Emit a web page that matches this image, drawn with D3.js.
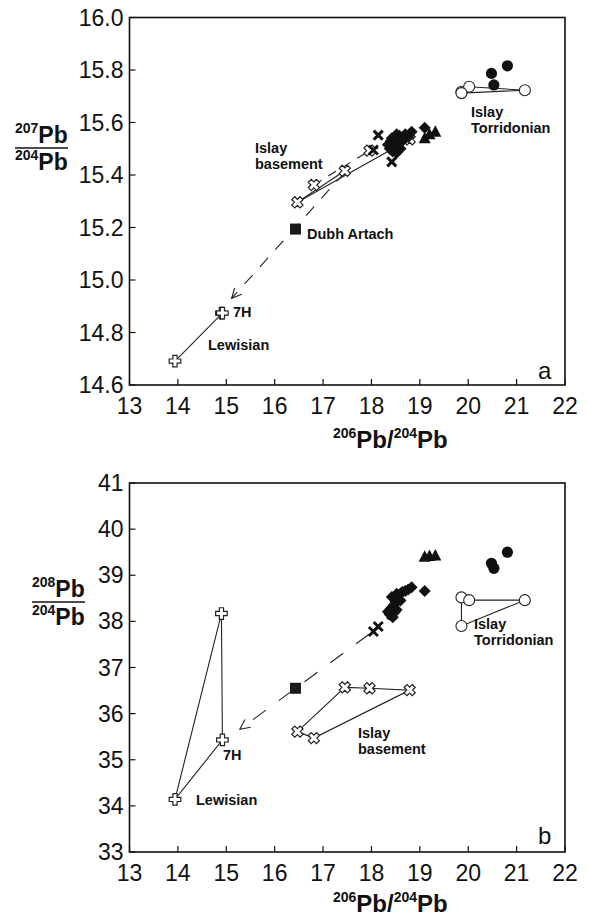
<!DOCTYPE html>
<html>
<head>
<meta charset="utf-8">
<script src="https://cdn.jsdelivr.net/npm/d3@7"></script>
<style>
  body { margin: 0; background: #fff; }
  svg text { font-family: "Liberation Sans", Arial, sans-serif; fill: #111; }
</style>
</head>
<body>
<svg id="svg" width="589" height="918"></svg>
<script>
// ****************************************
// Data

var xTicks = [13, 14, 15, 16, 17, 18, 19, 20, 21, 22];
var yTicksA = [14.6, 14.8, 15.0, 15.2, 15.4, 15.6, 15.8, 16.0];
var yTicksB = [33, 34, 35, 36, 37, 38, 39, 40, 41];

// filled diamonds
var diamondX    = [18.34, 18.38, 18.40, 18.42, 18.44, 18.46, 18.48, 18.50, 18.52, 18.52, 18.55, 18.58, 18.60, 18.64, 18.70, 18.76, 18.83, 19.10];
var diamondY207 = [15.515, 15.500, 15.530, 15.540, 15.490, 15.520, 15.505, 15.540, 15.485, 15.555, 15.510, 15.550, 15.500, 15.530, 15.555, 15.545, 15.565, 15.580];
var diamondY208 = [38.21, 38.15, 38.28, 38.53, 38.09, 38.35, 38.20, 38.42, 38.25, 38.60, 38.49, 38.58, 38.45, 38.64, 38.66, 38.69, 38.74, 38.66];

// filled triangles
var triX    = [19.10, 19.20, 19.32];
var triY207 = [15.540, 15.555, 15.565];
var triY208 = [39.40, 39.42, 39.43];

// x marks
var xMarkX    = [18.04, 18.14, 18.42];
var xMarkY207 = [15.495, 15.552, 15.450];
var xMarkY208 = [37.78, 37.89, 38.15];

// Islay Torridonian
var torrFilledX    = [20.48, 20.53, 20.81];
var torrFilledY207 = [15.787, 15.743, 15.816];
var torrFilledY208 = [39.26, 39.15, 39.50];
var torrOpenX    = [19.86, 20.02, 21.17, 19.86];
var torrOpenY207 = [15.717, 15.736, 15.723, 15.712];
var torrOpenY208 = [38.52, 38.46, 38.46, 37.90];

// Islay basement
var baseX    = [16.47, 16.81, 17.45, 17.96, 18.79];
var baseY207 = [15.296, 15.362, 15.416, 15.493, 15.536];
var baseY208 = [35.61, 35.47, 36.57, 36.55, 36.51];

// Lewisian (low, high, 7H)
var lewX    = [13.94, 14.90, 14.92];
var lewY207 = [14.691, 14.874, 14.874];
var lewY208 = [34.14, 38.17, 35.43];

// Dubh Artach
var dubhX = [16.43];
var dubhY207 = [15.194];
var dubhY208 = [36.55];

// trend arrows [from, to]
var arrowA = [[17.45, 15.41], [15.11, 14.93]];
var arrowB = [[17.95, 37.72], [15.28, 35.66]];

// ****************************************
// Setup

var svg = d3.select('#svg');

var panels = [
  { key: 'a', yDomain: [14.6, 16.0], yRange: [385, 17.5], yTicks: yTicksA, fmt: d3.format('.1f'),
    ySup: '207', titleY: [143, 148, 170], titleX: 15, letterY: 379, xTitleY: 448 },
  { key: 'b', yDomain: [33, 41], yRange: [852, 483], yTicks: yTicksB, fmt: d3.format('d'),
    ySup: '208', titleY: [597, 602, 625], titleX: 32, letterY: 844, xTitleY: 912 }
];

panels.forEach(p => {
  p.x = d3.scaleLinear().domain([13, 22]).range([129.5, 565]);
  p.y = d3.scaleLinear().domain(p.yDomain).range(p.yRange);
  p.g = svg.append('g');
});

function drawFrame(p){
  var g = p.g, x = p.x, y = p.y;
  var x0 = x.range()[0], x1 = x.range()[1], y0 = y.range()[0], y1 = y.range()[1];
  g.append('rect').attr('x', x0).attr('y', y1).attr('width', x1 - x0).attr('height', y0 - y1)
    .attr('fill', 'none').attr('stroke', '#111').attr('stroke-width', 1.6);

  // inward ticks
  g.selectAll('.xt').data(xTicks).enter().append('line')
    .attr('x1', d => x(d)).attr('x2', d => x(d)).attr('y1', y0).attr('y2', y0 - 6)
    .attr('stroke', '#111').attr('stroke-width', 1.2);
  g.selectAll('.xl').data(xTicks).enter().append('text')
    .attr('x', d => x(d)).attr('y', y0 + 29).attr('text-anchor', 'middle')
    .style('font-size', '23px').text(d => d);

  g.selectAll('.yt').data(p.yTicks).enter().append('line')
    .attr('x1', x0).attr('x2', x0 + 6).attr('y1', d => y(d)).attr('y2', d => y(d))
    .attr('stroke', '#111').attr('stroke-width', 1.2);
  g.selectAll('.yl').data(p.yTicks).enter().append('text')
    .attr('x', x0 - 6).attr('y', d => y(d) + 8).attr('text-anchor', 'end')
    .style('font-size', '23px').text(d => p.fmt(d));

  // x title
  var xt = g.append('text').attr('x', 333).attr('y', p.xTitleY).style('font-weight', 'bold');
  xt.append('tspan').attr('dy', -10).style('font-size', '14px').text('206');
  xt.append('tspan').attr('dy', 10).style('font-size', '24px').text('Pb/');
  xt.append('tspan').attr('dy', -10).style('font-size', '14px').text('204');
  xt.append('tspan').attr('dy', 10).style('font-size', '24px').text('Pb');

  // y title as fraction
  var t1 = g.append('text').attr('x', p.titleX).attr('y', p.titleY[0]).style('font-weight', 'bold');
  t1.append('tspan').attr('dy', -10).style('font-size', '14px').text(p.ySup);
  t1.append('tspan').attr('dy', 10).style('font-size', '23px').text('Pb');
  g.append('line').attr('x1', p.titleX).attr('x2', p.titleX + 53)
    .attr('y1', p.titleY[1]).attr('y2', p.titleY[1]).attr('stroke', '#111').attr('stroke-width', 1.5);
  var t2 = g.append('text').attr('x', p.titleX).attr('y', p.titleY[2]).style('font-weight', 'bold');
  t2.append('tspan').attr('dy', -10).style('font-size', '14px').text('204');
  t2.append('tspan').attr('dy', 10).style('font-size', '23px').text('Pb');

  g.append('text').attr('x', 538).attr('y', p.letterY).style('font-size', '24px').text(p.key);
}

// ****************************************
// Marker shapes

function plusPath(h, a){
  return 'M' + (-a) + ',' + (-h) + 'L' + a + ',' + (-h) + 'L' + a + ',' + (-a) + 'L' + h + ',' + (-a) +
    'L' + h + ',' + a + 'L' + a + ',' + a + 'L' + a + ',' + h + 'L' + (-a) + ',' + h + 'L' + (-a) + ',' + a +
    'L' + (-h) + ',' + a + 'L' + (-h) + ',' + (-a) + 'L' + (-a) + ',' + (-a) + 'Z';
}

function points(p, xs, ys){ return xs.map((d, i) => [p.x(d), p.y(ys[i])]); }

function polyline(p, pts, dashed){
  p.g.append('path').attr('d', d3.line()(pts)).attr('fill', 'none')
    .attr('stroke', '#222').attr('stroke-width', 1.1)
    .attr('stroke-dasharray', dashed ? dashed : null);
}

function arrow(p, ends, dash){
  var a = [p.x(ends[0][0]), p.y(ends[0][1])], b = [p.x(ends[1][0]), p.y(ends[1][1])];
  polyline(p, [a, b], dash);
  var ang = Math.atan2(a[1] - b[1], a[0] - b[0]), L = 11, s = 0.45;
  var head = [[b[0] + L*Math.cos(ang + s), b[1] + L*Math.sin(ang + s)], b, [b[0] + L*Math.cos(ang - s), b[1] + L*Math.sin(ang - s)]];
  polyline(p, head, null);
}

function drawMarkers(p, vals){
  var g = p.g;
  // basement open x-crosses
  points(p, baseX, vals.base).forEach(c => {
    g.append('path').attr('d', plusPath(5.8, 2.1)).attr('transform', 'translate(' + c[0] + ',' + c[1] + ') rotate(45)')
      .attr('fill', '#fff').attr('stroke', '#222').attr('stroke-width', 1.2);
  });
  // Lewisian open plus
  points(p, lewX, vals.lew).forEach(c => {
    g.append('path').attr('d', plusPath(5.8, 2.1)).attr('transform', 'translate(' + c[0] + ',' + c[1] + ')')
      .attr('fill', '#fff').attr('stroke', '#222').attr('stroke-width', 1.2);
  });
  // Dubh Artach square
  points(p, dubhX, vals.dubh).forEach(c => {
    g.append('rect').attr('x', c[0] - 5.5).attr('y', c[1] - 5.5).attr('width', 11).attr('height', 11).attr('fill', '#1a1a1a');
  });
  // Torridonian circles
  points(p, torrOpenX, vals.torrOpen).forEach(c => {
    g.append('circle').attr('cx', c[0]).attr('cy', c[1]).attr('r', 5.5).attr('fill', '#fff').attr('stroke', '#222').attr('stroke-width', 1.1);
  });
  points(p, torrFilledX, vals.torrFilled).forEach(c => {
    g.append('circle').attr('cx', c[0]).attr('cy', c[1]).attr('r', 5.6).attr('fill', '#111');
  });
  // diamonds
  points(p, diamondX, vals.diamond).forEach(c => {
    g.append('path').attr('d', 'M0,-6L6,0L0,6L-6,0Z').attr('transform', 'translate(' + c[0] + ',' + c[1] + ')').attr('fill', '#111');
  });
  // triangles
  points(p, triX, vals.tri).forEach(c => {
    g.append('path').attr('d', 'M0,-6.5L6,5L-6,5Z').attr('transform', 'translate(' + c[0] + ',' + c[1] + ')').attr('fill', '#111');
  });
  // x marks
  points(p, xMarkX, vals.xMark).forEach(c => {
    g.append('path').attr('d', 'M-4.5,-4.5L4.5,4.5M-4.5,4.5L4.5,-4.5').attr('transform', 'translate(' + c[0] + ',' + c[1] + ')')
      .attr('stroke', '#111').attr('stroke-width', 3).attr('fill', 'none');
  });
}

function label(p, x, y, lines, size){
  var t = p.g.append('text').attr('x', x).attr('y', y).style('font-weight', 'bold').style('font-size', (size || 14.5) + 'px');
  lines.forEach((l, i) => { t.append('tspan').attr('x', x).attr('dy', i ? 16 : 0).text(l); });
}

// ****************************************
// Panel a

var pa = panels[0];
drawFrame(pa);
var bA = points(pa, baseX, baseY207);
polyline(pa, [bA[0], bA[2]]);
polyline(pa, [bA[0], bA[4]]);
polyline(pa, [bA[1], bA[3]], '9 8');
polyline(pa, [bA[3], bA[4]], '9 8');
var lA = points(pa, lewX, lewY207);
polyline(pa, [lA[0], lA[2]]);
var oA = points(pa, torrOpenX, torrOpenY207);
polyline(pa, [oA[1], oA[2], oA[3], oA[0]]);
arrow(pa, arrowA, '12 11');
drawMarkers(pa, { base: baseY207, lew: lewY207, dubh: dubhY207, torrOpen: torrOpenY207, torrFilled: torrFilledY207,
  diamond: diamondY207, tri: triY207, xMark: xMarkY207 });
label(pa, 255, 153, ['Islay', 'basement']);
label(pa, 307, 239, ['Dubh Artach']);
label(pa, 233, 317, ['7H']);
label(pa, 208, 350, ['Lewisian']);
label(pa, 471, 117, ['Islay', 'Torridonian']);

// ****************************************
// Panel b

var pb = panels[1];
drawFrame(pb);
var bB = points(pb, baseX, baseY208);
polyline(pb, [bB[0], bB[2], bB[3], bB[4], bB[1], bB[0]]);
var lB = points(pb, lewX, lewY208);
polyline(pb, [lB[0], lB[1], lB[2], lB[0]]);
var oB = points(pb, torrOpenX, torrOpenY208);
polyline(pb, [oB[1], oB[2], oB[3], oB[0]]);
arrow(pb, arrowB, '16 16');
drawMarkers(pb, { base: baseY208, lew: lewY208, dubh: dubhY208, torrOpen: torrOpenY208, torrFilled: torrFilledY208,
  diamond: diamondY208, tri: triY208, xMark: xMarkY208 });
label(pb, 358, 738, ['Islay', 'basement']);
label(pb, 223, 760, ['7H']);
label(pb, 196, 805, ['Lewisian']);
label(pb, 474, 629, ['Islay', 'Torridonian']);
</script>
</body>
</html>
